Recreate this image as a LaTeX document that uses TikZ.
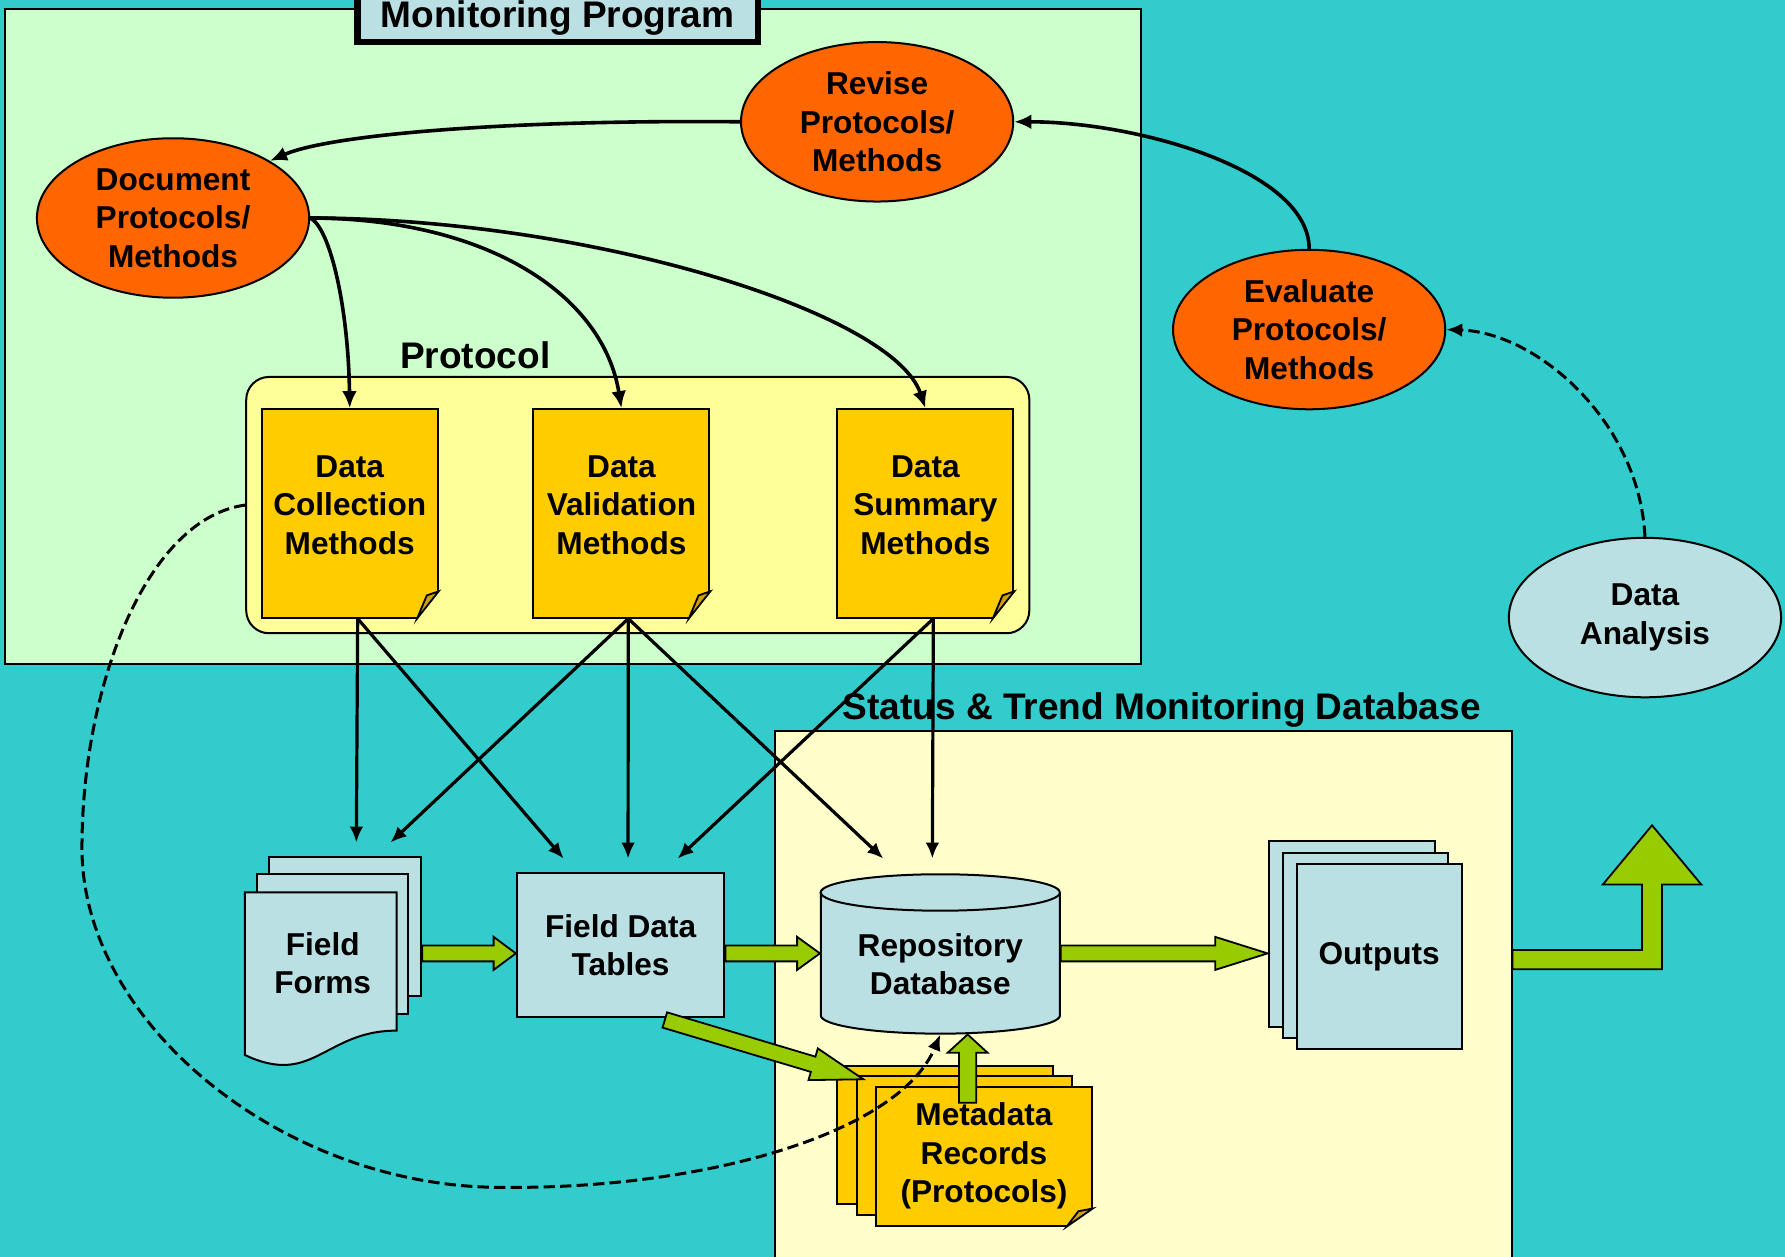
\documentclass[tikz,border=0pt]{standalone}
\usepackage{fontspec}
\setmainfont{Liberation Sans}
\usetikzlibrary{arrows.meta,positioning,shapes.geometric,calc}

\definecolor{seaback}{HTML}{33CCCC}
\definecolor{mintpanel}{HTML}{CCFFCC}
\definecolor{creampanel}{HTML}{FFFFCC}
\definecolor{protofill}{HTML}{FFFF99}
\definecolor{paleblue}{HTML}{BBE0E3}
\definecolor{burnt}{HTML}{FF6600}
\definecolor{gold}{HTML}{FFCC00}
\definecolor{goldfold}{HTML}{CCA000}
\definecolor{leaf}{HTML}{99CC00}

\newcommand{\foldcorner}[4]{%
  \fill[#2] ([xshift=-#3]#1.south east) -- ([shift={(0.6pt,-0.6pt)}]#1.south east) -- ([yshift=#4]#1.south east) -- cycle;
  \filldraw[fill=goldfold, line width=0.45pt] ([xshift=-#3]#1.south east) -- ([yshift=#4]#1.south east)
    -- ([shift={(-0.55*#3,0.85*#4)}]#1.south east) -- cycle;
}
\newcommand{\sidearrow}[3]{%
  \filldraw[blockarrow] ($(#1)+(0,-7)$) -- ($(#2)+(-#3,-7)$) -- ($(#2)+(-#3,-14.5)$) -- (#2)
    -- ($(#2)+(-#3,14.5)$) -- ($(#2)+(-#3,7)$) -- ($(#1)+(0,7)$) -- cycle;
}

\begin{document}
\begin{tikzpicture}[
  x=0.01cm, y=-0.01cm,
  every node/.style={font=\bfseries\fontsize{7.9}{9.6}\selectfont, align=center, inner sep=0pt},
  caption/.style={font=\bfseries\fontsize{9.25}{11}\selectfont},
  panel/.style={draw, line width=0.5pt},
  oval/.style={ellipse, draw, line width=0.5pt, fill=burnt, minimum width=2.39cm, minimum height=1.40cm},
  methoddoc/.style={draw, line width=0.5pt, fill=gold, minimum width=1.545cm, minimum height=1.83cm, text depth=0.15cm},
  sheet/.style={draw, line width=0.5pt, fill=paleblue},
  paper/.style={draw, line width=0.5pt, fill=gold},
  flow/.style={-{Latex[length=1.4mm,width=1.2mm]}, line width=0.8pt},
  curvelink/.style={-{Latex[length=1.5mm,width=1.3mm]}, line width=0.9pt},
  dashlink/.style={-{Latex[length=1.4mm,width=1.2mm]}, line width=0.75pt, dash pattern=on 0.1cm off 0.045cm},
  blockarrow/.style={draw, line width=0.45pt, fill=leaf}
]
\useasboundingbox (0,0) rectangle (1568,1104);
\clip (0,0) rectangle (1568,1104);
\fill[seaback] (0,0) rectangle (1568,1104);

\node[panel, fill=mintpanel, minimum width=9.97cm, minimum height=5.75cm] (mp) at (503.5,295.5) {};
\node[draw, line width=1.6pt, fill=paleblue, minimum width=3.52cm, minimum height=0.8cm] (mpbox) at (490,-3) {};
\node[caption, anchor=base] (mptitle) at (489.8,24) {Monitoring Program};

\node[panel, fill=creampanel, minimum width=6.47cm, minimum height=4.9cm, anchor=north west] (db) at (679.5,641) {};
\node[caption, anchor=base] (dbtitle) at (1020.5,632) {Status \& Trend Monitoring Database};

\node[panel, fill=protofill, rounded corners=0.2cm, minimum width=6.875cm, minimum height=2.25cm] (proto) at (560.25,443.7) {};
\node[caption, anchor=base] (prototitle) at (417.5,323.5) {Protocol};

\node[oval] (docm) at (152,191.5) {Document\\Protocols/\\Methods};
\node[oval] (revm) at (770.5,107) {Revise\\Protocols/\\Methods};
\node[oval] (evalm) at (1150,289.5) {Evaluate\\Protocols/\\Methods};
\node[oval, fill=paleblue] (analysis) at (1445,542.5) {Data\\Analysis};

\node[methoddoc] (dcm) at (307.2,451) {Data\\Collection\\Methods};
\node[methoddoc] (dvm) at (545.9,451) {Data\\Validation\\Methods};
\node[methoddoc] (dsm) at (812.9,451) {Data\\Summary\\Methods};
\foldcorner{dcm}{protofill}{0.19cm}{0.24cm}
\foldcorner{dvm}{protofill}{0.19cm}{0.24cm}
\foldcorner{dsm}{protofill}{0.19cm}{0.24cm}

\node[sheet, minimum width=1.34cm, minimum height=1.215cm] (ff3) at (303,813.8) {};
\node[sheet, minimum width=1.32cm, minimum height=1.227cm] (ff2) at (292,829.4) {};
\filldraw[sheet] (215,784) -- (348.4,784) -- (348.4,905.4) .. controls (300,905) and (282,935.5) .. (249,935.5)
  .. controls (236,935.5) and (224,931) .. (215,926.7) -- cycle;
\node[minimum width=1.334cm, minimum height=1.214cm] (ff) at (283.5,846) {Field\\Forms};

\node[sheet, minimum width=1.823cm, minimum height=1.258cm] (fdt) at (545.2,830.1) {Field Data\\Tables};

\filldraw[sheet] (721,784) -- (721,892) arc[start angle=180, end angle=360, x radius=1.05cm, y radius=0.16cm]
  -- (931,784) arc[start angle=0, end angle=180, x radius=1.05cm, y radius=0.16cm] -- cycle;
\draw[line width=0.5pt] (721,784) arc[start angle=180, end angle=360, x radius=1.05cm, y radius=0.16cm];
\node[minimum width=2.1cm, minimum height=1.22cm] (repo) at (826,847) {Repository\\Database};

\node[sheet, minimum width=1.458cm, minimum height=1.631cm] (out3) at (1187.3,820.35) {};
\node[sheet, minimum width=1.455cm, minimum height=1.628cm] (out2) at (1199.55,830.4) {};
\node[sheet, minimum width=1.45cm, minimum height=1.625cm] (outputs) at (1211.5,840.55) {Outputs};

\node[paper, minimum width=1.893cm, minimum height=1.212cm] (meta3) at (830,997) {};
\node[paper, minimum width=1.892cm, minimum height=1.221cm] (meta2) at (847.2,1006.25) {};
\node[paper, minimum width=1.893cm, minimum height=1.221cm] (meta) at (864.35,1015.65) {Metadata\\Records\\(Protocols)};
\foldcorner{meta}{creampanel}{0.23cm}{0.16cm}

\draw[curvelink] (revm.west) .. controls (450,105) and (290,118) .. (docm.north east);
\draw[curvelink] (evalm.north) .. controls (1150,150) and (1000,107) .. (revm.east);
\draw[curvelink] (docm.east) .. controls (290,200) and (306,270) .. (dcm.north);
\draw[curvelink] (docm.east) .. controls (430,192) and (530,260) .. (dvm.north);
\draw[curvelink] (docm.east) .. controls (520,192) and (785,275) .. (dsm.north);
\draw[dashlink] (analysis.north) .. controls (1440,370) and (1350,292) .. (evalm.east);
\draw[dashlink] (proto.west) .. controls (130,455) and (72,600) .. (72,745)
  .. controls (72,900) and (250,1043) .. (440,1043) .. controls (620,1045) and (790,995) .. (repo.south);

\draw[flow] ([xshift=0.07cm]dcm.south) -- ([xshift=0.10cm,yshift=0.12cm]ff3.north);
\draw[flow] ([xshift=0.07cm]dcm.south) -- ([xshift=-0.50cm,yshift=0.12cm]fdt.north);
\draw[flow] ([xshift=0.06cm]dvm.south) -- ([xshift=0.40cm,yshift=0.12cm]ff3.north);
\draw[flow] ([xshift=0.06cm]dvm.south) -- ([xshift=0.065cm,yshift=0.12cm]fdt.north);
\draw[flow] ([xshift=0.06cm]dvm.south) -- ([xshift=-0.50cm,yshift=0.31cm]repo.north);
\draw[flow] ([xshift=0.07cm]dsm.south) -- ([xshift=0.50cm,yshift=0.12cm]fdt.north);
\draw[flow] ([xshift=0.07cm]dsm.south) -- ([xshift=-0.07cm,yshift=0.31cm]repo.north);

\coordinate (ffout) at (ff3.east |- 0,837.5);
\coordinate (fdtin) at (fdt.west |- 0,837.5);
\coordinate (fdtout) at (fdt.east |- 0,837.5);
\coordinate (repoin) at (repo.west |- 0,837.5);
\coordinate (repoout) at (repo.east |- 0,837.5);
\coordinate (outin) at (out3.west |- 0,837.5);
\sidearrow{ffout}{fdtin}{19.5}
\sidearrow{fdtout}{repoin}{20}
\sidearrow{repoout}{outin}{46}
\filldraw[blockarrow] (586,889.3) -- (716.3,928.2) -- (718.4,921) -- (758.4,948.1) -- (710.2,948.8) -- (712.3,941.6) -- (582,902.7) -- cycle;
\coordinate (uptip) at ($(repo.south)+(24,0)$);
\filldraw[blockarrow] (uptip) -- ++(17.5,16) -- ++(-10,0) -- ++(0,44) -- ++(-15,0) -- ++(0,-44) -- ++(-10,0) -- cycle;
\filldraw[blockarrow] (db.east |- 0,834.5) -- (1442.3,834.5) -- (1442.3,777) -- (1408,777) -- (1451.2,725)
  -- (1494.5,777) -- (1460,777) -- (1460,851.5) -- (db.east |- 0,851.5) -- cycle;
\end{tikzpicture}
\end{document}
